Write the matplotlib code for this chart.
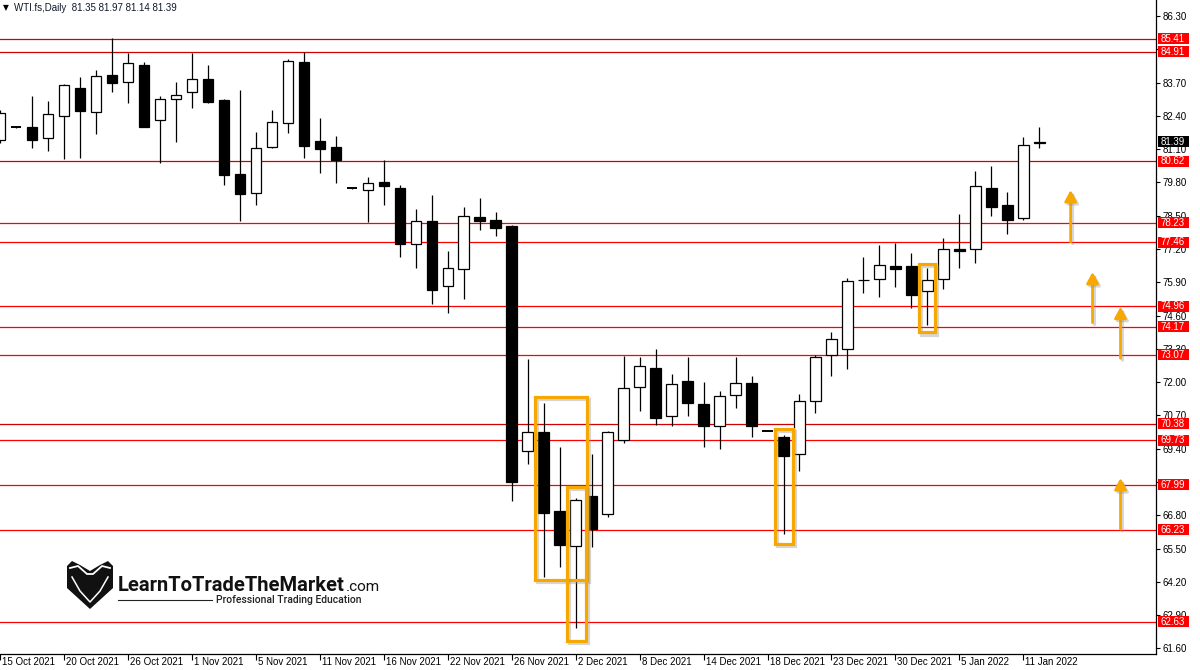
import matplotlib
matplotlib.use("Agg")
import matplotlib.pyplot as plt
import matplotlib.patheffects as pe
from matplotlib.patches import Rectangle, Polygon, FancyArrowPatch
from matplotlib.lines import Line2D
from matplotlib.transforms import blended_transform_factory, Affine2D, ScaledTranslation

plt.rcParams['font.family'] = ['Liberation Sans', 'DejaVu Sans']

# daily bars, WTI.fs (incl. the odd weekend bar the broker prints)
opens = [81.46, 81.95, 81.96, 81.52, 82.40, 83.48, 82.56, 83.98, 83.71, 84.37,
         82.23, 83.05, 83.32, 83.83, 83.01, 80.13, 79.37, 81.17, 82.11, 84.49,
         81.42, 81.18, 79.57, 79.49, 79.80, 79.58, 77.41, 78.28, 75.74, 76.41,
         78.45, 78.33, 78.10, 69.30, 70.04, 66.96, 65.59, 67.54, 66.84, 69.73,
         71.80, 72.54, 70.66, 72.03, 71.14, 70.27, 71.48, 71.95, 70.09, 69.84,
         69.18, 71.25, 73.05, 73.28, 75.97, 76.01, 76.53, 76.53, 75.57, 76.01,
         77.20, 77.19, 79.57, 78.91, 78.42, 81.35]
highs = [82.62, 81.96, 83.18, 82.98, 83.64, 83.92, 84.19, 85.45, 84.85, 84.50,
         83.16, 83.72, 84.85, 84.39, 83.05, 83.41, 81.76, 82.62, 84.61, 84.91,
         82.33, 81.61, 79.58, 80.01, 80.68, 79.70, 78.76, 79.31, 77.12, 78.84,
         79.19, 78.64, 78.15, 72.90, 71.18, 69.46, 67.48, 69.18, 70.10, 73.02,
         72.98, 73.29, 72.32, 72.98, 71.99, 71.64, 72.98, 72.23, 70.10, 69.95,
         71.54, 73.06, 73.96, 76.07, 76.89, 77.35, 77.44, 77.04, 76.44, 77.63,
         78.55, 80.25, 80.44, 79.42, 81.57, 81.97]
lows = [81.35, 81.94, 81.16, 81.04, 80.73, 80.77, 81.70, 83.34, 82.91, 81.95,
        80.57, 81.39, 82.72, 82.89, 79.69, 78.29, 78.93, 81.13, 81.74, 80.77,
        80.18, 79.77, 79.56, 78.27, 78.92, 76.90, 76.44, 75.06, 74.71, 75.26,
        77.95, 77.72, 67.37, 68.81, 64.40, 64.79, 62.41, 65.57, 66.72, 69.63,
        70.88, 70.34, 70.30, 70.69, 69.48, 69.37, 71.00, 69.87, 70.08, 66.07,
        68.54, 70.80, 72.25, 72.52, 75.49, 75.33, 75.73, 74.91, 74.24, 75.65,
        76.47, 76.66, 78.50, 77.80, 78.34, 81.14]
closes = [82.51, 81.95, 81.47, 82.46, 83.59, 82.60, 83.94, 83.67, 84.45, 81.98,
          83.05, 83.20, 83.83, 82.93, 80.08, 79.34, 81.13, 82.15, 84.53, 81.23,
          81.12, 80.69, 79.57, 79.77, 79.67, 77.41, 78.28, 75.61, 76.44, 78.48,
          78.30, 78.03, 68.11, 70.04, 66.90, 65.65, 67.38, 66.27, 70.04, 71.76,
          72.62, 70.59, 71.91, 71.17, 70.27, 71.44, 71.95, 70.27, 70.09, 69.13,
          71.25, 72.98, 73.68, 75.94, 76.00, 76.56, 76.43, 75.41, 75.98, 77.19,
          77.14, 79.65, 78.85, 78.34, 81.26, 81.39]

date_labels = ['15 Oct 2021', '20 Oct 2021', '26 Oct 2021', '1 Nov 2021', '5 Nov 2021',
               '11 Nov 2021', '16 Nov 2021', '22 Nov 2021', '26 Nov 2021', '2 Dec 2021',
               '8 Dec 2021', '14 Dec 2021', '18 Dec 2021', '23 Dec 2021', '30 Dec 2021',
               '5 Jan 2022', '11 Jan 2022']

price_ticks = [61.60, 62.90, 64.20, 65.50, 66.80, 68.10, 69.40, 70.70, 72.00, 73.30,
               74.60, 75.90, 77.20, 78.50, 79.80, 81.10, 82.40, 83.70, 85.00, 86.30]
hidden_ticks = [68.10, 85.00]   # fully covered by level labels in the terminal

levels = [85.41, 84.91, 80.62, 78.23, 77.46, 74.96, 74.17, 73.07, 70.38, 69.73,
          67.99, 66.23, 62.63]
dark_levels = [85.41, 84.91, 80.62, 70.38]

# highlighted zones: (x0, low, x1, high) in bar index / price
zones = [(33.44, 64.26, 36.69, 71.41), (35.46, 61.90, 36.64, 67.91),
         (48.48, 65.68, 49.58, 70.17), (57.48, 73.94, 58.50, 76.62)]
# up arrows: (bar position, from, to)
arrows = [(66.96, 77.48, 79.50), (68.33, 74.32, 76.30),
          (70.08, 72.93, 74.94), (70.08, 66.26, 68.25)]

W, H = 1200, 670
ORANGE = '#f7a800'
fig = plt.figure(figsize=(W / 100, H / 100), dpi=100)
ax = fig.add_axes([0, 16 / H, 1156 / W, 654 / H])
ymin, ymax = 61.38, 86.925
ppu = 654 / (ymax - ymin)

for lv in levels:
    c = '#d00000' if lv in dark_levels else '#ff0000'
    ax.axhline(lv, color=c, lw=0.9, zorder=1)

body_w = 0.66
for i in range(len(opens)):
    o, h, l, c = opens[i], highs[i], lows[i], closes[i]
    ax.vlines(i, l, h, colors='black', lw=0.9, zorder=2)
    if abs(c - o) < 0.03:
        ax.hlines(c, i - body_w / 2, i + body_w / 2, colors='black', lw=1.4, zorder=3)
    else:
        fc = 'white' if c > o else 'black'
        ax.bar(i, c - o, bottom=o, width=body_w, facecolor=fc, edgecolor='black',
               linewidth=0.9, zorder=3)

shadow = [pe.SimpleLineShadow(offset=(1.5, -1.5), shadow_color='0.55', alpha=0.35), pe.Normal()]
for x0, y0, x1, y1 in zones:
    r = Rectangle((x0, y0), x1 - x0, y1 - y0, fill=False, edgecolor=ORANGE,
                  lw=2.3, zorder=6, path_effects=shadow)
    ax.add_patch(r)

for xa, y0, y1 in arrows:
    a = FancyArrowPatch((xa, y0), (xa, y1), arrowstyle='-|>,head_length=0.55,head_width=0.3',
                        mutation_scale=12, color=ORANGE, lw=2.0, shrinkA=0, shrinkB=0,
                        zorder=6, path_effects=shadow)
    ax.add_patch(a)

# axes styling like the terminal
for s in ['left', 'top']:
    ax.spines[s].set_visible(False)
ax.spines['right'].set_linewidth(0.9)
ax.spines['bottom'].set_linewidth(0.9)
ax.yaxis.tick_right()
ax.set_yticks(price_ticks)
ax.set_yticklabels(['' if t in hidden_ticks else f'{t:.2f}' for t in price_ticks])
ax.tick_params(axis='y', labelsize=7, length=3, width=0.8, pad=2, colors='black')
ax.set_xticks(range(0, 4 * len(date_labels), 4))
ax.set_xticklabels(date_labels, ha='left')
ax.tick_params(axis='x', labelsize=7, length=4, width=0.8, pad=-1.5, colors='black')
off = ScaledTranslation(2 / 100, 0, fig.dpi_scale_trans)
for lab in ax.get_xticklabels():
    lab.set_transform(lab.get_transform() + off)

# price labels on the right scale
trans = blended_transform_factory(fig.transFigure, ax.transData)
def price_box(val, color):
    ax.add_patch(Rectangle((1158 / W, val - 5.5 / ppu), 31 / W, 11 / ppu, transform=trans,
                           facecolor=color, edgecolor='none', clip_on=False, zorder=7))
    ax.text(1160.5 / W, val, f'{val:.2f}', transform=trans, color='white', fontsize=7,
            va='center', ha='left', zorder=8, clip_on=False)

for lv in levels:
    price_box(lv, '#ff0000')
price_box(closes[-1], 'black')

ax.set_xlim(-0.01, 72.3)
ax.set_ylim(ymin, ymax)

# header
fig.text(3 / W, 1 - 8 / H, '▼', fontsize=5.5, va='center', color='black', family='DejaVu Sans')
fig.text(14 / W, 1 - 8 / H,
         f'WTI.fs,Daily  {opens[-1]:.2f} {highs[-1]:.2f} {lows[-1]:.2f} {closes[-1]:.2f}',
         fontsize=7, va='center', color='#10182a')

# watermark logo
pix = Affine2D().scale(1 / W, -1 / H).translate(0, 1) + fig.transFigure
shield = [(67, 566), (72, 561), (80, 565), (90, 571), (100, 565), (108, 561), (113, 566),
          (113, 588), (90, 609), (67, 588)]
fig.add_artist(Polygon(shield, closed=True, facecolor='#111111', edgecolor='none', transform=pix))
fig.add_artist(Line2D([70, 78, 87, 93, 102, 110], [568, 566, 574, 574, 566, 568],
                      color='white', lw=1.3, transform=pix))
fig.add_artist(Line2D([72, 80, 90, 100, 108], [577, 591, 602, 591, 577],
                      color='white', lw=1.1, transform=pix))
brand = fig.text(118 / W, 1 - 591 / H, 'LearnToTradeTheMarket', fontsize=14.5,
                 fontweight='bold', family='Roboto', va='baseline', color='#111111')
renderer = fig.canvas.get_renderer()
bx = brand.get_window_extent(renderer).x1
fig.text(bx / W + 1 / W, 1 - 591 / H, '.com', fontsize=11, family='Roboto', va='baseline',
         color='#111111')
fig.add_artist(Line2D([118, 212], [600, 600], color='#222222', lw=0.8, transform=pix))
fig.text(216 / W, 1 - 600 / H, 'Professional Trading Education', fontsize=7.5,
         family='Roboto', fontweight='medium', va='center', color='#222222')

fig.savefig('out.png', dpi=100, facecolor='white')
